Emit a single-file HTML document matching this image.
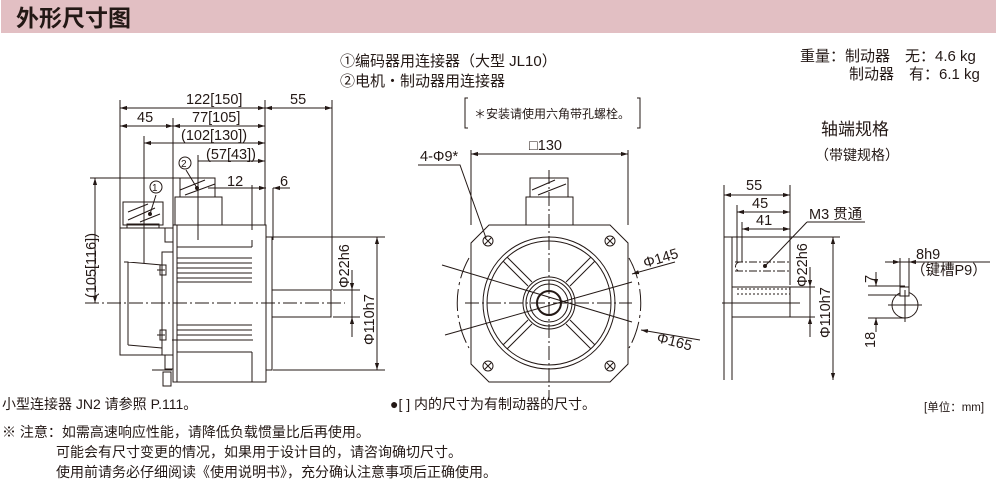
<!DOCTYPE html>
<html><head><meta charset="utf-8"><style>
body{margin:0;background:#fff;width:996px;height:501px;overflow:hidden}
svg{display:block}
text{font-family:"Liberation Sans","Noto Sans CJK SC",sans-serif;fill:#231815}
</style></head><body>
<svg width="996" height="501" viewBox="0 0 996 501" xmlns="http://www.w3.org/2000/svg">
<defs>
<marker id="a" viewBox="0 0 10 10" refX="10" refY="5" markerWidth="7" markerHeight="7" orient="auto-start-reverse"><path d="M0,2 L10,5 L0,8 z" fill="#231815"/></marker>
</defs>
<rect x="1" y="0" width="995" height="33" fill="#e2bfc3"/>
<text x="16" y="26" font-size="23" font-weight="bold">外形尺寸图</text>

<g font-size="15">
<text x="340" y="66">①编码器用连接器（大型 JL10）</text>
<text x="340" y="86">②电机・制动器用连接器</text>
<text x="800" y="61">重量：制动器　无：4.6 kg</text>
<text x="849" y="79">制动器　有：6.1 kg</text>
<text x="821" y="135" font-size="17">轴端规格</text>
<text x="815" y="160" font-size="14">（带键规格）</text>
</g>
<path d="M468,98 h-3 v30 h3 M637,98 h3 v30 h-3" stroke="#231815" fill="none"/>
<text x="474" y="118" font-size="12">＊安装请使用六角带孔螺栓。</text>

<g stroke="#231815" fill="none" stroke-width="1">
<path d="M120,100 V230 M265,100 V225 M332,100 V290 M173,118 V225 M144,136 V260 M198,155 V240"/>
<line x1="120" y1="108" x2="265" y2="108" marker-start="url(#a)" marker-end="url(#a)"/>
<line x1="265" y1="108" x2="332" y2="108" marker-start="url(#a)" marker-end="url(#a)"/>
<line x1="120" y1="126" x2="173" y2="126" marker-start="url(#a)" marker-end="url(#a)"/>
<line x1="173" y1="126" x2="265" y2="126" marker-start="url(#a)" marker-end="url(#a)"/>
<line x1="144" y1="143" x2="265" y2="143" marker-start="url(#a)" marker-end="url(#a)"/>
<line x1="198" y1="161" x2="265" y2="161" marker-end="url(#a)"/>
<line x1="208" y1="188" x2="252" y2="188" /><line x1="252" y1="188" x2="266" y2="188" marker-end="url(#a)"/>
<line x1="290" y1="188" x2="273" y2="188" marker-end="url(#a)"/>
<path d="M252,185 V230 M273,188 V240"/>
<line x1="90" y1="178" x2="180" y2="178"/>
<line x1="95" y1="178" x2="95" y2="303" marker-start="url(#a)" marker-end="url(#a)"/>
<rect x="173" y="225" width="93" height="157"/>
<rect x="266" y="237" width="6" height="133"/>
<rect x="272" y="290" width="59" height="27"/>
<path d="M173,225 V382 M177,225 V382"/>
<rect x="120" y="228" width="53" height="127"/>
<rect x="162" y="252" width="11" height="103"/>
<path d="M128,262 L162,265 M128,345 L162,348 M124,262 H128 V345 M172,340 H253"/>
<path d="M177,258 H252 M177,263 H252 M177,268 H252 M177,273 H252 M177,278 H252 M177,282 H252 M177,325 H252 M177,330 H252 M177,335 H252 M177,340 H252 M177,352 H252 M177,247 H252 M252,240 V247 M252,352 V382"/>
<path d="M157,270 H165 M157,335 H165 M152,370 H172 M160,275 v-10 h6 v10 z M160,340 v-10 h6 v10 z M165,228 h8 v14 h-8 z M165,355 h8 v14 h-8 z M163,372 h8 v14 h-8 z"/>
<rect x="123" y="202" width="40" height="23"/>
<rect x="127" y="224" width="32" height="4"/>
<path d="M128,212 L148,204 M128,220 L155,208 M140,222 L160,214"/>
<rect x="175" y="197" width="47" height="28"/>
<path d="M180,197 V178 H215 V197 M180,190 L205,180 M185,195 L215,184 M178,197 h3 M214,197 h3"/>
<circle cx="150" cy="214" r="1.5" fill="#231815"/><circle cx="197" cy="188" r="1.5" fill="#231815"/>
<line x1="150" y1="214" x2="156" y2="195"/><line x1="197" y1="188" x2="186" y2="170"/>
<circle cx="156" cy="187" r="6"/><circle cx="185" cy="163" r="6"/>
<path d="M85,303 H345" stroke-dasharray="14,3,2,3"/>
<path d="M144,145 V265 M198,170 V230" stroke-dasharray="10,3,2,3"/>
<path d="M333,290 H360 M333,317 H360 M273,237 H385 M273,370 H385"/>
<line x1="352" y1="270" x2="352" y2="290" marker-end="url(#a)"/>
<line x1="352" y1="337" x2="352" y2="317" marker-end="url(#a)"/>
<line x1="352" y1="290" x2="352" y2="317"/>
<line x1="377" y1="237" x2="377" y2="370" marker-start="url(#a)" marker-end="url(#a)"/>

<!-- front view -->
<path d="M489,225 H610 L628,243 V364 L610,382 H489 L471,364 V243 Z"/>
<path d="M471,150 V225 M628,150 V225"/>
<line x1="471" y1="154" x2="628" y2="154" marker-start="url(#a)" marker-end="url(#a)"/>
<rect x="526" y="197" width="47" height="28"/>
<path d="M530,197 V178 H568 V197 M532,190 L555,180 M538,195 L566,184"/>
<circle cx="549" cy="303" r="66"/><circle cx="549" cy="303" r="62"/>
<circle cx="549" cy="303" r="26"/><circle cx="549" cy="303" r="23"/><circle cx="549" cy="303" r="19"/>
<circle cx="549" cy="303" r="12" stroke-width="2"/>
<g transform="translate(549,303)">
<path d="M17,-21 L42,-46 M21,-17 L46,-42 M-17,-21 L-42,-46 M-21,-17 L-46,-42 M17,21 L42,46 M21,17 L46,42 M-17,21 L-42,46 M-21,17 L-46,42"/>
<path d="M-80,-45 A92,92 0 0 0 -80,45 M80,-45 A92,92 0 0 1 80,45" stroke-dasharray="22,4,3,4"/>
</g>
<path d="M549,170 V400 M465,303 H632" stroke-dasharray="14,3,2,3"/>
<g>
<circle cx="488" cy="241" r="5"/><path d="M485,238 l6,6 M491,238 l-6,6"/>
<circle cx="610" cy="241" r="5"/><path d="M607,238 l6,6 M613,238 l-6,6"/>
<circle cx="488" cy="366" r="5"/><path d="M485,363 l6,6 M491,363 l-6,6"/>
<circle cx="610" cy="366" r="5"/><path d="M607,363 l6,6 M613,363 l-6,6"/>
</g>
<path d="M418,165 H460 L486,238"/>
<line x1="442" y1="265" x2="632" y2="322" />
<line x1="445" y1="335" x2="632" y2="282"/>
<line x1="675" y1="262" x2="632" y2="274" marker-end="url(#a)"/>
<line x1="700" y1="340" x2="641" y2="330" marker-end="url(#a)"/>

<!-- shaft end view -->
<path d="M724,230 V380 M732,237 V380"/>
<rect x="732" y="287" width="58" height="30"/>
<path d="M737,289 H790 M737,294 H790" stroke-dasharray="2,2"/>
<path d="M735,262 H790 M735,271 H790 M740,262 A4.5,4.5 0 0 0 740,271" stroke-dasharray="8,2,2,2"/>
<path d="M724,185 V230 M790,185 V285 M737,205 V262 M742,222 V262 M724,237 H840 M790,287 H815 M790,317 H815 M722,303 H800" />
<line x1="724" y1="195" x2="790" y2="195" marker-start="url(#a)" marker-end="url(#a)"/>
<line x1="737" y1="212" x2="790" y2="212" marker-start="url(#a)" marker-end="url(#a)"/>
<line x1="742" y1="229" x2="790" y2="229" marker-start="url(#a)" marker-end="url(#a)"/>
<path d="M807,222 H865 M807,222 L765,266"/>
<circle cx="765" cy="266" r="1.5" fill="#231815"/>
<line x1="810" y1="267" x2="810" y2="287" marker-end="url(#a)"/>
<line x1="810" y1="337" x2="810" y2="317" marker-end="url(#a)"/>
<line x1="810" y1="287" x2="810" y2="317"/>
<line x1="833" y1="237" x2="833" y2="380" marker-start="url(#a)" marker-end="url(#a)"/>
<circle cx="905" cy="305" r="13"/>
<rect x="900" y="287" width="9" height="9" fill="#fff"/>
<path d="M900,258 V287 M909,258 V287 M885,262 H990 M868,286 H905 M868,295 H900 M868,318 H905 M888,305 H922 M905,290 V322"/>
<line x1="885" y1="262" x2="900" y2="262" marker-end="url(#a)"/>
<line x1="924" y1="262" x2="909" y2="262" marker-end="url(#a)"/>
<line x1="876" y1="272" x2="876" y2="286" marker-end="url(#a)"/>
<line x1="876" y1="332" x2="876" y2="318" marker-end="url(#a)"/>
</g>

<g font-size="14.5">
<text x="186" y="104">122[150]</text>
<text x="290" y="104">55</text>
<text x="137" y="122">45</text>
<text x="192" y="122">77[105]</text>
<text x="181" y="140">(102[130])</text>
<text x="206" y="159">(57[43])</text>
<text x="227" y="186">12</text>
<text x="280" y="186">6</text>
<text x="152" y="191" font-size="10">1</text><text x="181" y="167" font-size="10">2</text>
<text transform="translate(96,298) rotate(-90)">(105[116])</text>
<text transform="translate(349,288) rotate(-90)">Φ22h6</text>
<text transform="translate(374,345) rotate(-90)">Φ110h7</text>
<text x="529" y="150">□130</text>
<text x="420" y="161">4-Φ9*</text>
<text transform="translate(645,268) rotate(-17)">Φ145</text>
<text transform="translate(656,342) rotate(14)">Φ165</text>
<text x="746" y="190">55</text>
<text x="752" y="208">45</text>
<text x="756" y="225">41</text>
<text x="809" y="219">M3 贯通</text>
<text transform="translate(807,287) rotate(-90)">Φ22h6</text>
<text transform="translate(830,338) rotate(-90)">Φ110h7</text>
<text x="916" y="259">8h9</text>
<text x="911" y="275">（键槽P9）</text>
<text transform="translate(875,283) rotate(-90)">7</text>
<text transform="translate(875,348) rotate(-90)">18</text>
</g>

<g font-size="14">
<text x="2" y="409">小型连接器 JN2 请参照 P.111。</text>
<text x="390" y="409">●[ ] 内的尺寸为有制动器的尺寸。</text>
<text x="924" y="411" font-size="11.5">[单位：mm]</text>
<text x="2" y="437">※ 注意：如需高速响应性能，请降低负载惯量比后再使用。</text>
<text x="56" y="457">可能会有尺寸变更的情况，如果用于设计目的，请咨询确切尺寸。</text>
<text x="56" y="477">使用前请务必仔细阅读《使用说明书》，充分确认注意事项后正确使用。</text>
</g>
</svg>
</body></html>
